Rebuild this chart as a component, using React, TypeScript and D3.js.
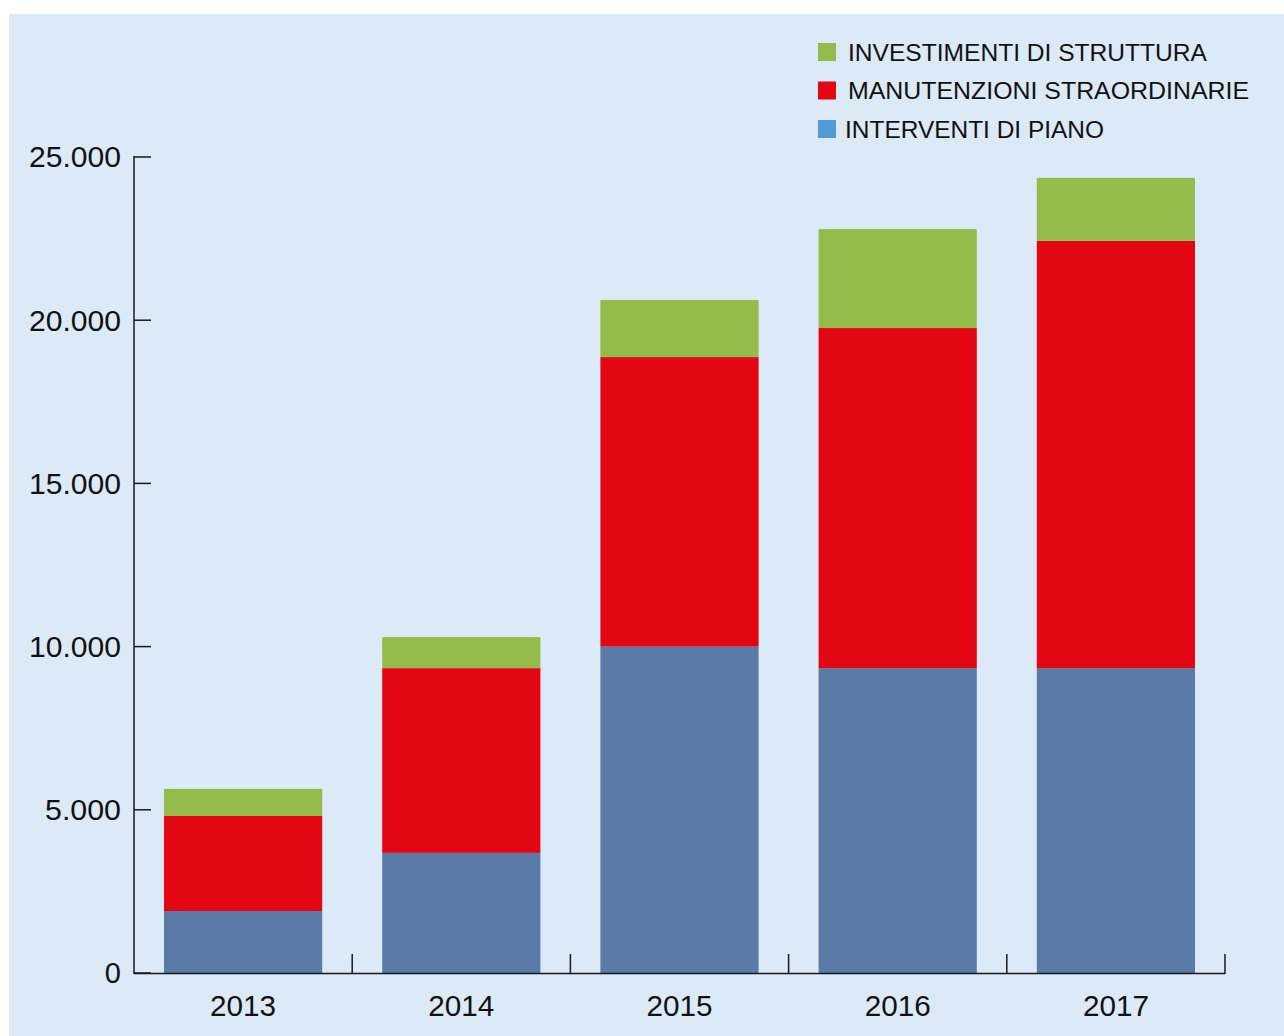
import React from "react";
import * as d3 from "d3";

const years = ["2013", "2014", "2015", "2016", "2017"];
const interventiPiano = [1900, 3680, 10000, 9340, 9340];
const manutenzioni = [2910, 5660, 8870, 10420, 13090];
const investimenti = [830, 950, 1750, 3030, 1930];
const yTicks = [0, 5000, 10000, 15000, 20000, 25000];
const seriesNames = ["INTERVENTI DI PIANO", "MANUTENZIONI STRAORDINARIE", "INVESTIMENTI DI STRUTTURA"];
const barColors = ["#5a7aa8", "#e30613", "#95bc4a"];
const legendColors = ["#4f9bd8", "#e30613", "#95bc4a"];

const W = 1284, H = 1036;
const font = "'Liberation Sans', Arial, sans-serif";

export default function App() {
  const x = d3.scaleBand().domain(years).range([134, 1225]).paddingInner(0.275).paddingOuter(0.1375);
  const y = d3.scaleLinear().domain([0, 25000]).range([973, 157]);
  const table = years.map((yr, i) => ({ year: yr, a: interventiPiano[i], b: manutenzioni[i], c: investimenti[i] }));
  const stack = d3.stack<any>().keys(["a", "b", "c"])(table);
  const fmt = (v: number) => (v === 0 ? "0" : d3.format(",")(v).replace(/,/g, "."));
  const boundaries = years.map((_, i) => 134 + (i + 1) * x.step());

  const legendOrder = [2, 1, 0];
  return (
    <svg width={W} height={H} style={{ display: "block", position: "absolute", left: 0, top: 0 }}>
      <rect x={9} y={14} width={W - 9} height={H - 14} fill="#dce9f6" />
      {stack.map((s, si) =>
        s.map((d, i) => (
          <rect key={si + "-" + i} x={x(years[i])} width={x.bandwidth()} y={y(d[1])} height={y(d[0]) - y(d[1])} fill={barColors[si]} />
        ))
      )}
      <line x1={134} x2={134} y1={156} y2={974} stroke="#1a1a1a" strokeWidth={1.5} />
      <line x1={134} x2={1225} y1={973.5} y2={973.5} stroke="#1a1a1a" strokeWidth={1.5} />
      {yTicks.map((t) => (
        <g key={t}>
          <line x1={134} x2={151} y1={y(t)} y2={y(t)} stroke="#1a1a1a" strokeWidth={1.5} />
          <text x={121} y={y(t)} dy="0.36em" textAnchor="end" fontFamily={font} fontSize={29} fill="#111" textLength={t === 0 ? undefined : t < 10000 ? 76 : 92} lengthAdjust="spacingAndGlyphs">{fmt(t)}</text>
        </g>
      ))}
      {boundaries.map((b, i) => (
        <line key={i} x1={b} x2={b} y1={954} y2={974} stroke="#1a1a1a" strokeWidth={1.5} />
      ))}
      {years.map((yr) => (
        <text key={yr} x={(x(yr) as number) + x.bandwidth() / 2} y={1006} dy="0.36em" textAnchor="middle" fontFamily={font} fontSize={29} fill="#111" textLength={66} lengthAdjust="spacingAndGlyphs">{yr}</text>
      ))}
      {legendOrder.map((si, row) => (
        <g key={si}>
          <rect x={818} y={43 + row * 38.5} width={18} height={18} fill={legendColors[si]} />
          <text x={si === 0 ? 845 : 848} y={52 + row * 38.5} dy="0.36em" fontFamily={font} fontSize={24} fill="#111" textLength={[259, 401, 359][si]} lengthAdjust="spacingAndGlyphs">{seriesNames[si]}</text>
        </g>
      ))}
    </svg>
  );
}
